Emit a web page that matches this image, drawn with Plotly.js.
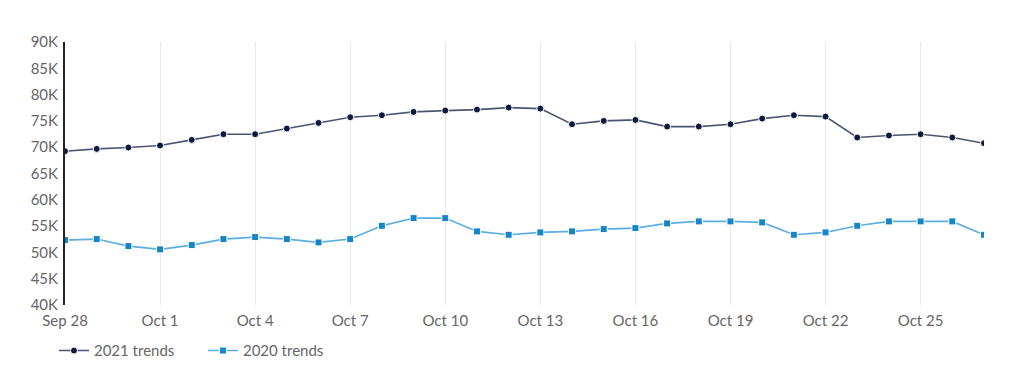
<!DOCTYPE html>
<html>
<head>
<meta charset="utf-8">
<script src="https://cdn.plot.ly/plotly-3.0.1.min.js"></script>
<style>html,body{margin:0;padding:0;background:#fff;}#chart{width:1024px;height:374px;}</style>
</head>
<body>
<div id="chart"></div>
<script>
const dates = [
  '2021-09-28','2021-09-29','2021-09-30','2021-10-01','2021-10-02','2021-10-03','2021-10-04','2021-10-05','2021-10-06','2021-10-07',
  '2021-10-08','2021-10-09','2021-10-10','2021-10-11','2021-10-12','2021-10-13','2021-10-14','2021-10-15','2021-10-16','2021-10-17',
  '2021-10-18','2021-10-19','2021-10-20','2021-10-21','2021-10-22','2021-10-23','2021-10-24','2021-10-25','2021-10-26','2021-10-27'
];
const trends2021 = [
  69240, 69680, 69940, 70320, 71390, 72470, 72470, 73540, 74620, 75700,
  76080, 76710, 76960, 77150, 77530, 77340, 74370, 75000, 75190, 73920,
  73920, 74370, 75440, 76080, 75820, 71840, 72220, 72470, 71840, 70760
];
const trends2020 = [
  52340, 52530, 51200, 50570, 51390, 52530, 52910, 52530, 51900, 52530,
  55060, 56520, 56520, 53990, 53350, 53800, 53990, 54430, 54620, 55510,
  55890, 55890, 55700, 53350, 53800, 55060, 55890, 55890, 55890, 53350
];
const yTickVals = [40000, 45000, 50000, 55000, 60000, 65000, 70000, 75000, 80000, 85000, 90000];
const yTickText = ['40K','45K','50K','55K','60K','65K','70K','75K','80K','85K','90K'];
const seriesNames = ['2021 trends', '2020 trends'];

const traces = [
  {
    x: dates, y: trends2021, name: seriesNames[0], type: 'scatter', mode: 'lines+markers',
    line: {color: '#4b5572', width: 1.6},
    marker: {color: '#0e1a3d', size: 7, symbol: 'circle', line: {color: '#ffffff', width: 1}}
  },
  {
    x: dates, y: trends2020, name: seriesNames[1], type: 'scatter', mode: 'lines+markers',
    line: {color: '#5aaee2', width: 1.6},
    marker: {color: '#1585c9', size: 7, symbol: 'square', line: {color: '#ffffff', width: 1}}
  }
];

const layout = {
  width: 1024, height: 374,
  margin: {l: 65, r: 40, t: 42, b: 69},
  paper_bgcolor: '#ffffff', plot_bgcolor: '#ffffff',
  font: {family: 'Lato, "Open Sans", sans-serif', size: 15, color: '#666666'},
  showlegend: true,
  legend: {
    orientation: 'h', x: -0.012, xanchor: 'left', yref: 'container', y: 0.062, yanchor: 'middle',
    font: {size: 15, color: '#666666'}, itemwidth: 30, tracegroupgap: 0,
    entrywidth: 104, entrywidthmode: 'pixels'
  },
  xaxis: {
    type: 'date', range: ['2021-09-28', '2021-10-27'],
    tick0: '2021-09-28', dtick: 3 * 86400000, tickformat: '%b %-d',
    showgrid: true, gridcolor: '#e8e8e8', gridwidth: 1,
    showline: false, zeroline: false, ticks: '', ticklabelstandoff: 5,
    tickfont: {size: 15, color: '#666666'}, fixedrange: true
  },
  yaxis: {
    range: [40000, 90000], tickvals: yTickVals, ticktext: yTickText,
    showgrid: false, zeroline: false, showline: true, linecolor: '#222222', linewidth: 2,
    ticks: '', ticklabelstandoff: 2,
    tickfont: {size: 15, color: '#666666'}, fixedrange: true
  }
};

Plotly.newPlot('chart', traces, layout, {displayModeBar: false, staticPlot: true});
</script>
</body>
</html>
